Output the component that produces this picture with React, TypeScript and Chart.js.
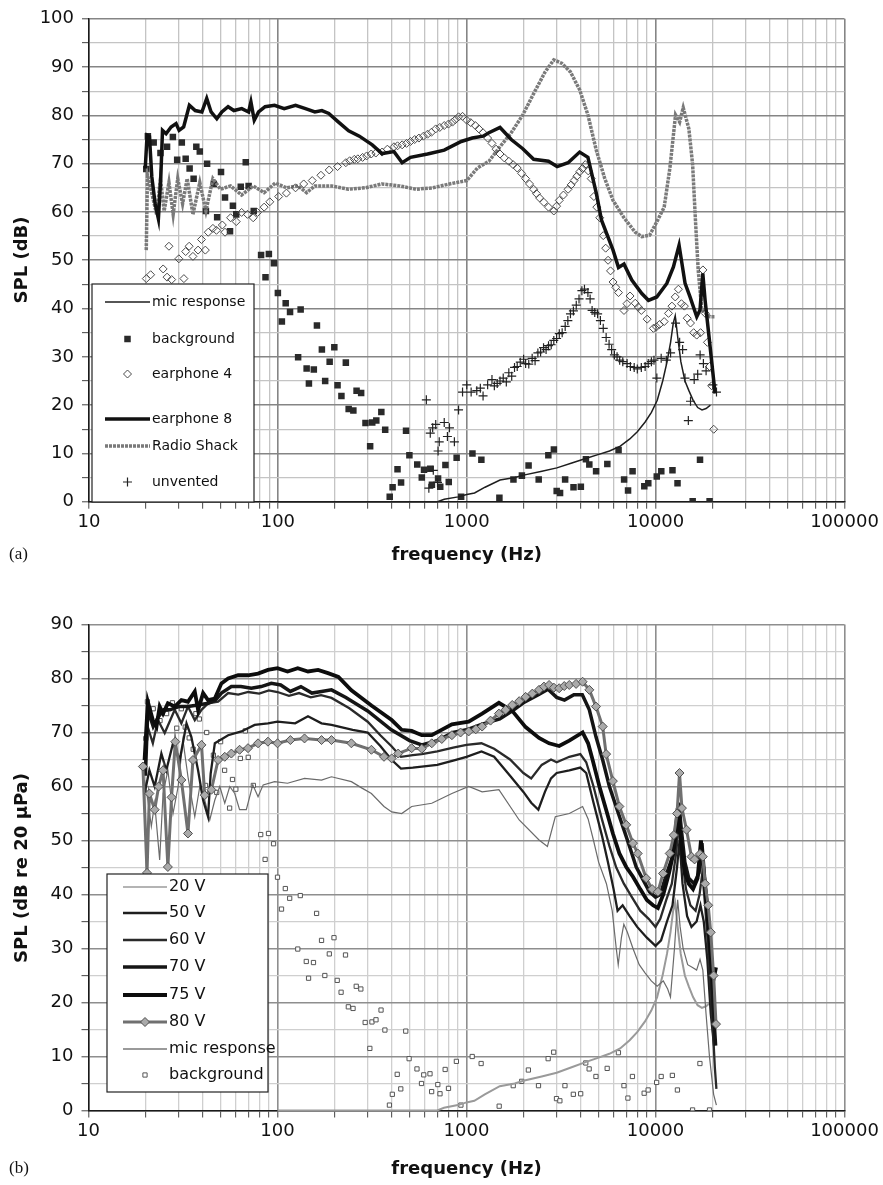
import React, { useEffect, useRef } from 'react';
import { Chart, registerables } from 'chart.js';

Chart.register(...registerables);
Chart.defaults.font.family = 'DejaVu Sans';

// ---------------- axes ----------------
const X_LABELS = [10, 100, 1000, 10000, 100000];
const X_DECADES = [10, 100, 1000, 10000];
const X_MULTS = [1, 2, 3, 4, 5, 6, 7, 8, 9];
const X_GRID: number[] = [];
for (const d of X_DECADES) for (const m of X_MULTS) X_GRID.push(d * m);
X_GRID.push(100000);
const Y_GRID = [0, 5, 10, 15, 20, 25, 30, 35, 40, 45, 50, 55, 60, 65, 70, 75, 80, 85, 90, 95, 100];

// ---------------- shared series (both panels) ----------------
const MIC_HZ = [100, 140, 300, 700, 760, 900, 1000, 1100, 1250, 1500, 1800, 2000, 2500, 3000, 3600, 4300, 5000, 5700, 6500, 7300, 8000, 8800, 9500, 10200, 10900, 11500, 12000, 12400, 12700, 13100, 13600, 14300, 15000, 15800, 16700, 17600, 18500, 19500];
const MIC_DB = [0, 0, 0, 0, 0.5, 1, 1.5, 1.8, 3, 4.5, 5, 5.5, 6.3, 7, 8, 9, 9.8, 10.5, 11.5, 13, 14.5, 16.5, 18.5, 21, 25, 29, 33, 37, 38.5, 34, 29, 25, 23, 21, 19.5, 19, 19.3, 20];

const BG_HZ = [20.1, 20.5, 22.0, 23.9, 25.9, 27.8, 29.3, 31.0, 32.5, 34.1, 35.8, 37.0, 38.6, 41.6, 42.2, 45.8, 47.7, 50.0, 52.5, 55.8, 57.8, 60.2, 63.6, 67.6, 70.0, 74.5, 81.5, 86.0, 89.6, 95.3, 100, 105, 110, 116, 128, 132, 142, 146, 155, 161, 171, 178, 188, 199, 207, 217, 229, 237, 251, 261, 276, 291, 308, 316, 332, 353, 370, 391, 405, 430, 449, 477, 497, 547, 578, 594, 641, 654, 705, 724, 771, 803, 884, 934, 1072, 1195, 1489, 1767, 1959, 2125, 2404, 2704, 2893, 2993, 3119, 3318, 3675, 4019, 4275, 4456, 4840, 5550, 6365, 6810, 7145, 7550, 8710, 9145, 10140, 10715, 12280, 13060, 15710, 17180, 19310];
const BG_DB = [68.9, 75.7, 74.4, 72.2, 73.5, 75.5, 70.8, 74.4, 71, 69, 66.9, 73.5, 72.5, 60.2, 70, 65.8, 58.9, 68.3, 63, 56, 61.3, 59.5, 65.2, 70.3, 65.4, 60.2, 51.1, 46.5, 51.3, 49.4, 43.2, 37.3, 41.1, 39.3, 29.9, 39.8, 27.6, 24.5, 27.4, 36.5, 31.5, 25, 29, 32, 24.1, 21.9, 28.8, 19.2, 18.9, 23, 22.5, 16.3, 11.5, 16.4, 16.8, 18.6, 14.9, 1, 3, 6.7, 4, 14.7, 9.6, 7.7, 5, 6.6, 6.8, 3.5, 4.8, 3.1, 7.6, 4.1, 9.1, 1, 10, 8.7, 0.8, 4.6, 5.4, 7.5, 4.6, 9.6, 10.8, 2.2, 1.8, 4.6, 3, 3.1, 8.8, 7.7, 6.3, 7.8, 10.7, 4.6, 2.3, 6.3, 3.2, 3.8, 5.2, 6.3, 6.5, 3.8, 0.1, 8.7, 0.1];

// ---------------- panel (a) ----------------
const E4_HZ = [20.1, 21.2, 24.7, 25.9, 26.5, 27.4, 29.9, 31.8, 32.5, 33.9, 35.5, 37.8, 39.4, 41.3, 42.8, 45.3, 47.3, 50.8, 52.5, 56.2, 60.2, 64.3, 69, 74, 78, 84.6, 90.6, 101, 111, 124, 137, 152, 169, 187, 207, 229, 240, 254, 265, 281, 295, 312, 330, 356, 380, 412, 430, 455, 480, 504, 530, 558, 590, 620, 650, 685, 720, 760, 800, 840, 870, 905, 950, 1000, 1050, 1110, 1160, 1220, 1290, 1360, 1430, 1500, 1580, 1670, 1760, 1850, 1950, 2050, 2150, 2260, 2340, 2430, 2560, 2710, 2890, 2990, 3090, 3250, 3440, 3570, 3700, 3830, 3960, 4100, 4240, 4400, 4560, 4710, 4880, 5060, 5280, 5440, 5600, 5770, 5950, 6150, 6360, 6800, 7050, 7320, 7800, 8100, 8400, 9020, 9730, 10100, 10480, 11100, 11700, 12200, 12700, 13200, 13700, 14200, 14700, 15300, 15900, 16500, 17300, 17800, 18300, 18800, 19300, 19800, 20300];
const E4_DB = [46.2, 47, 48.2, 46.5, 52.9, 46, 50.3, 46.2, 51.8, 52.9, 50.8, 52.1, 54.3, 52.1, 55.8, 56.6, 56.2, 57.3, 55.8, 58.8, 58, 59.9, 59.5, 58.8, 59.9, 61, 62.1, 63.2, 63.9, 65, 65.8, 66.5, 67.6, 68.7, 69.4, 70.2, 70.6, 70.9, 71, 71.3, 71.6, 72, 72.2, 72.4, 73, 73.5, 73.7, 73.9, 74.2, 74.6, 75, 75.3, 75.7, 76.1, 76.5, 77.2, 77.5, 77.9, 78.2, 78.6, 79.1, 79.7, 79.8, 79, 78.5, 77.9, 77.2, 76.4, 75.3, 74.2, 73, 72, 71.2, 70.5, 69.8, 69.1, 68, 66.9, 65.8, 64.7, 63.8, 62.9, 62, 61, 60.2, 61.2, 62.4, 63.5, 64.7, 65.6, 66.5, 67.4, 68.3, 69, 69.8, 68.5, 66.9, 63.2, 61, 58.8, 55.1, 52.5, 50, 47.8, 45.5, 44.4, 43.3, 39.6, 41, 42.6, 41.1, 40.3, 39.6, 37.8, 35.9, 36.2, 36.7, 37.3, 39, 40.5, 42.4, 44, 41, 40.5, 38, 37, 35, 34.5, 35, 48, 39, 33, 28, 24, 15];

const E8_HZ = [19.85, 20.3, 20.9, 21.5, 22.4, 23.3, 24.0, 24.5, 25.6, 27.2, 28.9, 30.0, 31.7, 34.0, 36.5, 39.6, 42.0, 44.3, 47.5, 50.5, 54.5, 58.5, 64.4, 70, 72, 75, 79, 85.6, 96, 108, 124, 140, 157, 171, 186, 208, 237, 270, 316, 356, 412, 455, 504, 620, 760, 935, 1070, 1220, 1310, 1500, 1720, 1980, 2260, 2710, 3010, 3440, 3960, 4380, 4850, 5170, 5950, 6360, 6800, 7480, 8450, 9160, 10140, 11460, 12420, 13310, 14320, 15210, 16510, 17180, 17770, 18280, 19430, 20640];
const E8_DB = [69, 75.9, 75.6, 67.3, 61.7, 58.6, 67.3, 76.9, 76.2, 77.6, 78.3, 76.9, 77.6, 82.1, 81, 80.7, 83.5, 80.7, 79.3, 80.7, 81.8, 81, 81.4, 80.7, 82.8, 79, 80.7, 81.8, 82.1, 81.4, 82.1, 81.4, 80.7, 81, 80.4, 78.7, 76.8, 75.7, 73.9, 72.1, 72.5, 70.2, 71.3, 72, 72.8, 74.6, 75.3, 75.7, 76.4, 77.5, 75, 73.1, 70.9, 70.5, 69.4, 70.2, 72.4, 71.3, 63.9, 58.3, 52.1, 48.5, 49.2, 45.9, 43.1, 41.7, 42.4, 45.2, 48.6, 53.1, 45.2, 42.4, 38.3, 39.7, 47.3, 41.7, 32.1, 22.4];

const RS_HZ = [20.1, 20.4, 21.5, 22.8, 23.9, 25.0, 26.5, 27.9, 29.5, 31.3, 33.1, 35.5, 38.6, 41.6, 45.3, 49.7, 56.2, 64.3, 74, 84.6, 97, 111, 128, 142, 157, 193, 236, 290, 355, 440, 540, 660, 810, 1000, 1140, 1310, 1500, 1720, 1980, 2260, 2600, 2890, 3180, 3540, 3960, 4380, 4850, 5380, 5950, 6800, 7800, 8450, 9300, 10250, 11100, 11900, 12750, 13400, 14000, 15000, 15700, 16250, 16800, 17560, 19430, 20640];
const RS_DB = [52.1, 67.6, 63.9, 59.5, 66.9, 60.2, 66.1, 59.5, 66.9, 61.7, 66.9, 59.5, 66.1, 60.2, 66.9, 64.7, 65.4, 63.5, 65.4, 64, 66, 65, 65.4, 64, 65.4, 65.4, 64.7, 65, 65.8, 65.4, 64.7, 65, 65.8, 66.5, 69.1, 70.5, 73.5, 76.4, 80.1, 84.5, 89, 91.5, 90.8, 89, 85.3, 80.1, 72.8, 66.9, 62.4, 58.8, 55.8, 54.9, 55.2, 58.3, 61, 69.1, 80.1, 78.6, 81.6, 77.2, 69.8, 58.3, 48, 39.7, 38.3, 38.3];

const UV_HZ = [611, 630, 641, 660, 665, 685, 700, 705, 715, 760, 790, 810, 860, 905, 950, 1000, 1055, 1130, 1180, 1220, 1290, 1360, 1400, 1450, 1500, 1560, 1620, 1670, 1730, 1790, 1850, 1920, 2000, 2050, 2130, 2220, 2300, 2380, 2460, 2550, 2630, 2710, 2800, 2890, 2990, 3090, 3200, 3320, 3430, 3540, 3670, 3800, 3930, 4070, 4200, 4380, 4500, 4610, 4760, 4930, 5100, 5280, 5470, 5670, 5850, 6050, 6250, 6450, 6700, 7060, 7350, 7700, 8000, 8400, 8800, 9140, 9500, 9800, 10150, 10700, 11400, 12000, 12750, 13400, 13900, 14300, 14900, 15300, 16000, 16700, 17200, 17900, 18500, 20100, 21000];
const UV_DB = [21.1, 2.8, 14.2, 15.3, 6.5, 16, 4, 10.5, 12.4, 16.4, 13.5, 15.3, 12.4, 19, 22.7, 24.2, 22.7, 23, 23.5, 21.9, 24.2, 25.3, 24, 24.5, 25, 25.6, 24.8, 26.7, 26, 27.8, 28, 28.9, 29.5, 28.6, 28.5, 29.7, 29.2, 30.8, 31, 31.9, 31.5, 32.3, 32.5, 33.4, 33.8, 34.8, 35, 36.3, 37.5, 38.9, 39.5, 40.7, 42, 43.7, 44, 43.3, 42, 39.6, 39.2, 38.9, 37.5, 35.9, 34, 32.6, 31.5, 30.4, 30, 29.3, 29, 28.6, 28, 27.8, 27.5, 27.8, 28, 28.6, 29, 29.3, 25.6, 29.7, 29.3, 30.8, 37, 33, 31.5, 25.6, 16.8, 20.8, 25.3, 26.4, 30.4, 28.6, 27.1, 24.2, 22.7];

// ---------------- panel (b) ----------------
const V20_HZ = [19.8, 20.6, 21.5, 22.4, 23.8, 24.8, 26.3, 28, 29.8, 31.6, 33.6, 36.5, 38.8, 41.2, 43.8, 46.6, 49.5, 52.6, 55.9, 59.4, 63, 68.4, 74, 78.9, 84, 96.5, 113, 139, 171, 193, 246, 280, 314, 366, 402, 454, 513, 655, 837, 1027, 1210, 1484, 1900, 2420, 2680, 2950, 3500, 4115, 4400, 4700, 5000, 5500, 5900, 6200, 6350, 6600, 6800, 7100, 7600, 8200, 8800, 9500, 10200, 11000, 11600, 12000, 12600, 13100, 13500, 14000, 14800, 15700, 16500, 17200, 17800, 18500, 19300, 20300, 21000];
const V20_DB = [61.2, 57.5, 52.6, 56.9, 46.4, 58.7, 63, 55, 60, 68.6, 61.8, 54.4, 60, 57.5, 53.8, 57.5, 60, 56.9, 60, 58.7, 55.7, 55.7, 60.3, 58.1, 60.3, 60.9, 60.6, 61.5, 61.2, 61.8, 60.9, 59.7, 58.7, 56.3, 55.3, 55, 56.3, 56.9, 58.7, 60, 59, 59.4, 53.8, 50.1, 48.9, 54.4, 55, 56.3, 54, 50, 46, 42, 37, 30, 27, 32, 34.5, 33, 30, 27, 25.5, 24, 23, 24, 22.5, 21, 30, 39, 34, 30, 27, 26.5, 26, 28, 26, 18, 10, 3, 1];

const V50_HZ = [19.8, 21, 22.4, 24.3, 25.8, 28, 30.4, 33, 35, 38, 40.4, 42.9, 44.3, 46.6, 54.8, 64.4, 75.7, 89, 100, 124, 145, 171, 193, 250, 300, 350, 400, 450, 520, 580, 700, 850, 1000, 1200, 1400, 1700, 2000, 2200, 2400, 2600, 2800, 3000, 3500, 4000, 4300, 4700, 5200, 5600, 6000, 6300, 6700, 7300, 8000, 9000, 10000, 10700, 11500, 12300, 13000, 13400, 13900, 14700, 15500, 16500, 17300, 18000, 18800, 19600, 20400];
const V50_DB = [58.7, 63, 60, 66.1, 63, 68, 64.9, 71.7, 69.2, 63, 57.5, 54.4, 62.4, 68, 69.5, 70.2, 71.4, 71.7, 72, 71.7, 73, 71.7, 71.4, 70.5, 70, 67.5, 65, 63.3, 63.5, 63.7, 64, 64.8, 65.5, 66.5, 65.5, 62, 59, 57, 55.7, 59, 61.5, 62.5, 63, 63.5, 62.5, 57, 51, 46, 41, 37, 38, 36, 34, 32, 30.5, 31.5, 35, 38, 45, 50, 42, 36, 34, 35, 38, 35, 28, 18, 12];

const V60_HZ = [19.8, 20.6, 21.9, 23.3, 25.3, 28.6, 31, 33.6, 36.5, 39.6, 42.9, 48.5, 54.8, 62, 70, 80, 90, 100, 115, 130, 150, 170, 193, 240, 300, 350, 400, 450, 520, 580, 700, 850, 1000, 1200, 1400, 1700, 2000, 2200, 2500, 2800, 3000, 3500, 4000, 4300, 4700, 5200, 5700, 6200, 6800, 7500, 8300, 9200, 10000, 10600, 11400, 12200, 12900, 13300, 13800, 14500, 15300, 16300, 17100, 17700, 18300, 19000, 19800, 20600, 21000];
const V60_DB = [63, 71, 68, 72.3, 69.9, 74.2, 71.7, 74.8, 72.3, 74.2, 75.4, 75.7, 77.3, 77, 77.5, 77.2, 77.8, 77.5, 76.8, 77.3, 76.5, 76.9, 76.4, 74.5, 72, 69.5, 67.5, 65.5, 65.8, 66, 66.5, 67.2, 67.7, 68, 67, 65, 62.5, 61.5, 64, 65, 64.5, 65.5, 66, 64.5, 60, 54, 49, 45, 42, 39.5, 37, 35.5, 34, 35.5, 39, 42, 48, 54, 47, 41, 38, 37, 40, 44, 38, 30, 20, 8, 4];

const V70_HZ = [20, 20.6, 22, 23.5, 25, 27, 30, 33.6, 38, 43, 47, 50.5, 57, 64, 72.7, 82, 92.7, 104, 117, 133, 152, 171, 193, 230, 300, 400, 500, 580, 700, 850, 1000, 1200, 1500, 1750, 2000, 2400, 2700, 3000, 3300, 3700, 4100, 4466, 4842, 5256, 5703, 6185, 6714, 7290, 7907, 8600, 9300, 10000, 10600, 11500, 12300, 12900, 13300, 13700, 14300, 15000, 16000, 17000, 17600, 18200, 19000, 19600, 20300, 20800];
const V70_DB = [62, 74.2, 71.1, 73, 74.2, 74.2, 74.8, 74.8, 75.1, 75.4, 76, 77.3, 78.5, 78.5, 78.2, 78.5, 79.1, 78.8, 77.6, 78.5, 77.3, 77.6, 77.9, 76.5, 74, 70.5, 68.5, 67.7, 68.5, 70, 70.5, 71.5, 72.5, 74, 75.5, 77, 78, 76.5, 76, 77, 77, 74.2, 69.2, 64.9, 60, 56.3, 52.6, 48.9, 45.1, 42.7, 40.5, 39.5, 40, 44, 47, 52, 57, 52, 46, 43, 42, 44, 49.5, 43, 35, 28, 18, 12];

const V75_HZ = [19.8, 20.6, 21.9, 22.9, 23.8, 24.8, 26.3, 28.6, 31, 33.6, 36.5, 38, 40.4, 42.9, 46.6, 50.5, 54.8, 61.9, 69.8, 78.9, 89, 100, 113, 128, 145, 164, 185, 210, 246, 314, 402, 454, 513, 580, 655, 837, 1027, 1210, 1484, 1746, 2055, 2420, 2735, 3093, 3497, 4115, 4400, 4650, 5050, 5480, 5950, 6440, 7000, 7600, 8300, 9000, 9700, 10300, 11000, 11800, 12500, 13100, 13600, 14300, 15000, 15800, 16700, 17400, 18000, 18700, 19500, 20200, 20900];
const V75_DB = [64.9, 75.7, 72.3, 71.1, 74.8, 73.5, 75.4, 74.8, 76, 75.7, 77.6, 74.2, 77.3, 76, 76.3, 79.1, 80, 80.6, 80.6, 80.9, 81.6, 81.9, 81.3, 81.9, 81.3, 81.6, 81, 80.3, 77.8, 75, 72.3, 70.5, 70.3, 69.5, 69.5, 71.5, 72, 73.5, 75.5, 74, 71, 69, 68, 67.5, 68.5, 70, 68, 64.9, 60, 55.7, 51.3, 47.6, 45.1, 43.3, 41, 39, 38, 37.5, 40, 44, 48, 56, 50, 44, 42, 41, 43, 50, 44, 38, 30, 24, 26.5];

const V80_HZ = [19.4, 20.4, 21, 22.4, 23.5, 24.8, 26.3, 27.5, 28.8, 31, 33.6, 35.7, 39.6, 41.2, 44.7, 48.5, 52.6, 57, 63, 69.8, 78.9, 89, 100, 117, 139, 171, 193, 246, 314, 366, 402, 435, 513, 580, 655, 740, 837, 930, 1027, 1120, 1210, 1340, 1484, 1610, 1746, 1900, 2055, 2230, 2420, 2570, 2735, 2900, 3093, 3290, 3497, 3800, 4115, 4466, 4842, 5256, 5480, 5950, 6440, 7000, 7600, 8050, 8930, 9600, 10300, 10960, 11890, 12500, 13000, 13400, 13800, 14590, 15500, 16100, 17180, 17800, 18300, 19000, 19600, 20300, 20900];
const V80_DB = [63.7, 44, 58.7, 55.7, 60, 63, 45.1, 58, 68.3, 61.2, 51.3, 64.9, 67.7, 58.4, 59.4, 64.9, 65.5, 66.1, 66.8, 67.1, 68, 68.3, 68, 68.6, 68.9, 68.6, 68.6, 68, 66.8, 65.5, 65.2, 66.1, 67.1, 67, 68, 68.8, 69.5, 70, 70.2, 70.6, 71.1, 72.2, 73.5, 74.2, 75.1, 75.8, 76.6, 77.2, 77.9, 78.5, 78.8, 78.3, 78.2, 78.6, 78.8, 79, 79.4, 77.9, 74.8, 71.1, 66, 61, 56.3, 52.9, 49.5, 47.6, 43, 41, 40.5, 43.9, 47.6, 51, 55, 62.5, 56, 52, 47, 46.5, 47.5, 47, 42, 38, 33, 25, 16];

// ---------------- helpers ----------------
const pts = (hz: number[], db: number[]) => hz.map((x, i) => ({ x, y: db[i] }));

const TICK_FONT = { family: 'DejaVu Sans', size: 18 };

function xScale(height: number, major: string, minor: string) {
  return {
    type: 'logarithmic',
    min: 10,
    max: 100000,
    afterBuildTicks: (s: any) => { s.ticks = X_GRID.map((v) => ({ value: v })); },
    afterFit: (s: any) => { s.height = height; },
    ticks: {
      autoSkip: false, maxRotation: 0, minRotation: 0, padding: 3, color: '#111',
      font: TICK_FONT,
      callback: (v: any) => (X_LABELS.includes(Number(v)) ? String(v) : ''),
    },
    grid: {
      color: (c: any) => (X_LABELS.includes(c.tick?.value) ? major : minor),
      lineWidth: (c: any) => (X_LABELS.includes(c.tick?.value) ? 1.6 : 1.3),
      tickLength: 7,
      tickColor: '#444',
      tickWidth: 1,
    },
    border: { display: true, color: '#1a1a1a', width: 1.5 },
  };
}

function yScale(max: number, width: number, major: string, minor: string) {
  return {
    type: 'linear',
    min: 0,
    max,
    afterBuildTicks: (s: any) => { s.ticks = Y_GRID.filter((v) => v <= max).map((v) => ({ value: v })); },
    afterFit: (s: any) => { s.width = width; },
    ticks: {
      autoSkip: false, padding: 8, color: '#111',
      font: TICK_FONT,
      callback: (v: any) => (Number(v) % 10 === 0 ? String(v) : ''),
    },
    grid: {
      color: (c: any) => (c.tick && c.tick.value % 10 === 0 ? major : minor),
      lineWidth: (c: any) => (c.tick && c.tick.value % 10 === 0 ? 1.6 : 1.3),
      tickLength: 7,
      tickColor: '#444',
      tickWidth: 1,
    },
    border: { display: true, color: '#1a1a1a', width: 1.5 },
  };
}

function drawMarker(ctx: CanvasRenderingContext2D, style: string, x: number, y: number, r: number, fill: string, stroke: string, lw: number) {
  ctx.save();
  ctx.setLineDash([]);
  ctx.lineWidth = lw;
  ctx.strokeStyle = stroke;
  ctx.fillStyle = fill;
  ctx.beginPath();
  if (style === 'rect') {
    const s = r * Math.SQRT1_2;
    ctx.rect(x - s, y - s, 2 * s, 2 * s);
  } else if (style === 'rectRot') {
    ctx.moveTo(x, y - r); ctx.lineTo(x + r, y); ctx.lineTo(x, y + r); ctx.lineTo(x - r, y); ctx.closePath();
  } else if (style === 'cross') {
    ctx.moveTo(x - r, y); ctx.lineTo(x + r, y); ctx.moveTo(x, y - r); ctx.lineTo(x, y + r);
  }
  if (style !== 'cross' && fill) ctx.fill();
  if (lw > 0) ctx.stroke();
  ctx.restore();
}

function drawSymbol(ctx: CanvasRenderingContext2D, ds: any, x0: number, x1: number, y: number) {
  if (ds.showLine) {
    ctx.save();
    ctx.strokeStyle = ds.borderColor;
    ctx.lineWidth = ds.borderWidth;
    ctx.setLineDash(ds.borderDash || []);
    ctx.beginPath(); ctx.moveTo(x0, y); ctx.lineTo(x1, y); ctx.stroke();
    ctx.restore();
  }
  if (ds.pointRadius > 0) {
    drawMarker(ctx, ds.pointStyle, (x0 + x1) / 2, y, ds.pointRadius, ds.pointBackgroundColor, ds.pointBorderColor, ds.pointBorderWidth);
  }
}

type Spec = {
  id: string; letter: string; yTitle: string; yTitleX: number; yTitleY: number; xTitleY: number;
  box: { x: number; y: number; w: number; h: number }; lineX0: number; lineX1: number; textX: number;
  legendFont: string; entries: [number, number][];
};

function makeOverlay(spec: Spec) {
  return {
    id: spec.id,
    afterDraw(chart: any) {
      const ctx = chart.ctx as CanvasRenderingContext2D;
      const area = chart.chartArea;
      ctx.save();
      ctx.fillStyle = '#111';
      ctx.textBaseline = 'middle';
      ctx.textAlign = 'center';
      ctx.font = 'bold 18px "DejaVu Sans"';
      ctx.save();
      ctx.translate(spec.yTitleX, spec.yTitleY);
      ctx.rotate(-Math.PI / 2);
      ctx.fillText(spec.yTitle, 0, 0);
      ctx.restore();
      ctx.fillText('frequency (Hz)', (area.left + area.right) / 2, spec.xTitleY);
      ctx.font = '17px "Liberation Serif"';
      ctx.textAlign = 'left';
      ctx.fillText(spec.letter, 9, spec.xTitleY);
      const b = spec.box;
      ctx.fillStyle = '#fff';
      ctx.fillRect(b.x, b.y, b.w, b.h);
      ctx.strokeStyle = '#222';
      ctx.lineWidth = 1.2;
      ctx.strokeRect(b.x, b.y, b.w, b.h);
      ctx.font = spec.legendFont;
      for (const [idx, y] of spec.entries) {
        const ds = chart.data.datasets[idx];
        drawSymbol(ctx, ds, spec.lineX0, spec.lineX1, y);
        ctx.fillStyle = '#111';
        ctx.textAlign = 'left';
        ctx.textBaseline = 'middle';
        ctx.fillText(ds.label, spec.textX, y);
      }
      ctx.restore();
    },
  };
}

const lineDs = (label: string, data: any[], color: string, width: number, order: number, dash: number[] = []) => ({
  label, data, showLine: true, borderColor: color, borderWidth: width, borderDash: dash,
  pointRadius: 0, pointHoverRadius: 0, tension: 0, order, clip: false,
});
const pointDs = (label: string, data: any[], style: string, r: number, fill: string, stroke: string, lw: number, order: number) => ({
  label, data, showLine: false, pointStyle: style, pointRadius: r, pointHoverRadius: r,
  pointBackgroundColor: fill, pointBorderColor: stroke, pointBorderWidth: lw,
  backgroundColor: fill, borderColor: stroke, borderWidth: lw, order,
});

function configA() {
  const datasets = [
    lineDs('mic response', pts(MIC_HZ, MIC_DB), '#1e1e1e', 1.5, 5),
    pointDs('background', pts(BG_HZ, BG_DB), 'rect', 4.6, '#2a2a2a', '#2a2a2a', 0, 6),
    pointDs('earphone 4', pts(E4_HZ, E4_DB), 'rectRot', 4, 'rgba(255,255,255,0)', '#4a4a4a', 1, 3),
    lineDs('earphone 8', pts(E8_HZ, E8_DB), '#111', 3.5, 1),
    lineDs('Radio Shack', pts(RS_HZ, RS_DB), '#7a7a7a', 3.5, 4, [3, 1]),
    pointDs('unvented', pts(UV_HZ, UV_DB), 'cross', 4.5, '#222', '#222', 1.2, 2),
  ];
  const overlay = makeOverlay({
    id: 'overlayA', letter: '(a)', yTitle: 'SPL (dB)', yTitleX: 22, yTitleY: 260, xTitleY: 555,
    box: { x: 92, y: 284, w: 162, h: 218 }, lineX0: 105, lineX1: 150, textX: 152,
    legendFont: '14px "DejaVu Sans"',
    entries: [[0, 302], [1, 339], [2, 374], [3, 419], [4, 446], [5, 482]],
  });
  return {
    type: 'scatter',
    data: { datasets },
    plugins: [overlay],
    options: {
      responsive: false, animation: false, events: [],
      layout: { padding: { left: 0, right: 38.5, top: 18.5, bottom: 0 } },
      plugins: { legend: { display: false }, tooltip: { enabled: false } },
      scales: { x: xScale(73.3, '#858585', '#c4c4c4'), y: yScale(100, 89, '#858585', '#c4c4c4') },
    },
  };
}

function configB() {
  const datasets = [
    lineDs('20 V', pts(V20_HZ, V20_DB), '#6a6a6a', 1.2, 6),
    lineDs('50 V', pts(V50_HZ, V50_DB), '#1e1e1e', 2.3, 5),
    lineDs('60 V', pts(V60_HZ, V60_DB), '#2a2a2a', 2.3, 4),
    lineDs('70 V', pts(V70_HZ, V70_DB), '#151515', 3.5, 3),
    lineDs('75 V', pts(V75_HZ, V75_DB), '#0d0d0d', 3.8, 2),
    {
      ...lineDs('80 V', pts(V80_HZ, V80_DB), '#707070', 3, 1),
      pointStyle: 'rectRot', pointRadius: 4.5, pointHoverRadius: 4.5,
      pointBackgroundColor: '#aaaaaa', pointBorderColor: '#505050', pointBorderWidth: 1,
    },
    lineDs('mic response', pts(MIC_HZ, MIC_DB), '#9a9a9a', 2, 7),
    pointDs('background', pts(BG_HZ, BG_DB), 'rect', 3, '#ffffff', '#555', 1, 8),
  ];
  const overlay = makeOverlay({
    id: 'overlayB', letter: '(b)', yTitle: 'SPL (dB re 20 \u00b5Pa)', yTitleX: 22, yTitleY: 290, xTitleY: 591,
    box: { x: 107, y: 296, w: 161, h: 218 }, lineX0: 123, lineX1: 167, textX: 169,
    legendFont: '16px "DejaVu Sans"',
    entries: [[0, 309], [1, 335], [2, 362], [3, 389], [4, 417], [5, 444], [6, 471], [7, 497]],
  });
  return {
    type: 'scatter',
    data: { datasets },
    plugins: [overlay],
    options: {
      responsive: false, animation: false, events: [],
      layout: { padding: { left: 0, right: 38.5, top: 46.5, bottom: 0 } },
      plugins: { legend: { display: false }, tooltip: { enabled: false } },
      scales: { x: xScale(74.5, '#8e8e8e', '#cfcfcf'), y: yScale(90, 88.5, '#8e8e8e', '#cfcfcf') },
    },
  };
}

function Panel({ top, height, make }: { top: number; height: number; make: () => any }) {
  const ref = useRef<HTMLCanvasElement | null>(null);
  useEffect(() => {
    const chart = new Chart(ref.current as HTMLCanvasElement, make());
    return () => chart.destroy();
  }, []);
  return (
    <div style={{ position: 'absolute', left: 0, top, width: 883, height }}>
      <canvas ref={ref} width={883} height={height} style={{ display: 'block', width: 883, height }} />
    </div>
  );
}

export default function App() {
  return (
    <div style={{ position: 'absolute', left: 0, top: 0, width: 883, height: 1185, background: '#fff', overflow: 'hidden' }}>
      <Panel top={0} height={575} make={configA} />
      <Panel top={578} height={607} make={configB} />
    </div>
  );
}
